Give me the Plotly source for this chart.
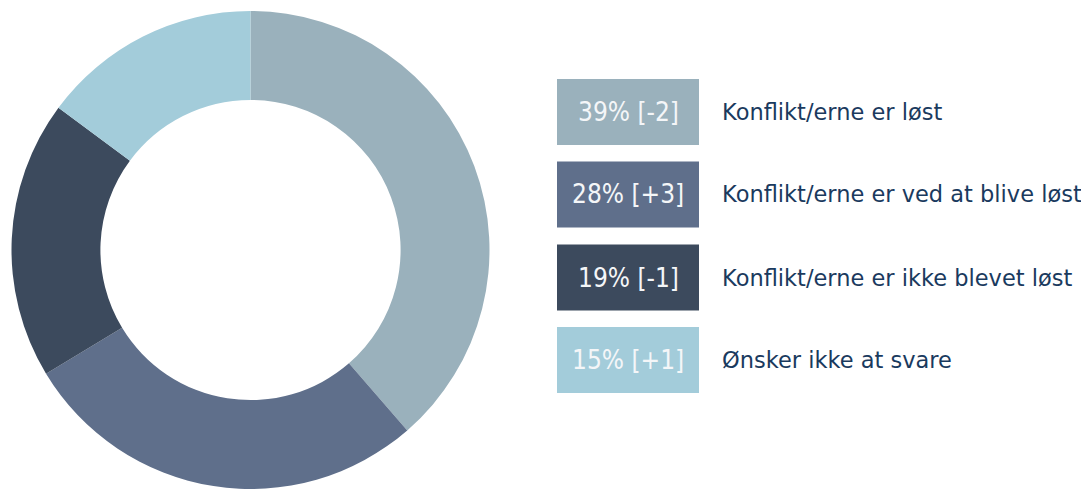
import plotly.graph_objects as go

categories = ["Konflikt/erne er løst", "Konflikt/erne er ved at blive løst",
              "Konflikt/erne er ikke blevet løst", "Ønsker ikke at svare"]
values = [39, 28, 19, 15]
changes = ["-2", "+3", "-1", "+1"]
colors = ["#9AB1BC", "#5F6F8B", "#3C4A5D", "#A3CCDA"]

W, H = 1089, 489
OFF = 8  # page body margin offset
fig = go.Figure()
fig.add_trace(go.Pie(
    values=values, labels=categories, sort=False, direction="clockwise", rotation=0,
    hole=0.628, marker=dict(colors=colors, line=dict(width=0)),
    textinfo="none", hoverinfo="label+value", showlegend=False,
    domain=dict(x=[(11.5 - OFF) / W, (489.5 - OFF) / W],
                y=[1 - (489 - OFF) / H, 1 - (11 - OFF) / H]),
))

box_left = 557 - OFF
box_w = 142
box_h = 66
tops = [79 - OFF, 161.5 - OFF, 244.5 - OFF, 327 - OFF]
for cat, v, ch, col, top in zip(categories, values, changes, colors, tops):
    cy = 1 - (top + box_h / 2) / H
    fig.add_shape(type="rect", xref="paper", yref="paper",
                  x0=box_left / W, x1=(box_left + box_w) / W,
                  y0=1 - (top + box_h) / H, y1=1 - top / H,
                  fillcolor=col, line=dict(width=0), layer="below")
    fig.add_annotation(xref="paper", yref="paper", x=(box_left + box_w / 2) / W, y=cy,
                       xanchor="center", yanchor="middle", showarrow=False,
                       text=f"{v}% [{ch}]",
                       font=dict(family="DejaVu Sans Condensed, DejaVu Sans", size=26, color="#F4F6F8"))
    fig.add_annotation(xref="paper", yref="paper", x=(720 - OFF) / W, y=cy,
                       xanchor="left", yanchor="middle", showarrow=False,
                       text=cat,
                       font=dict(family="DejaVu Sans", size=22.5, color="#1A3A5E"))

fig.update_layout(width=W, height=H, margin=dict(l=0, r=0, t=0, b=0),
                  paper_bgcolor="white", plot_bgcolor="white")
fig.write_html("out.html")
